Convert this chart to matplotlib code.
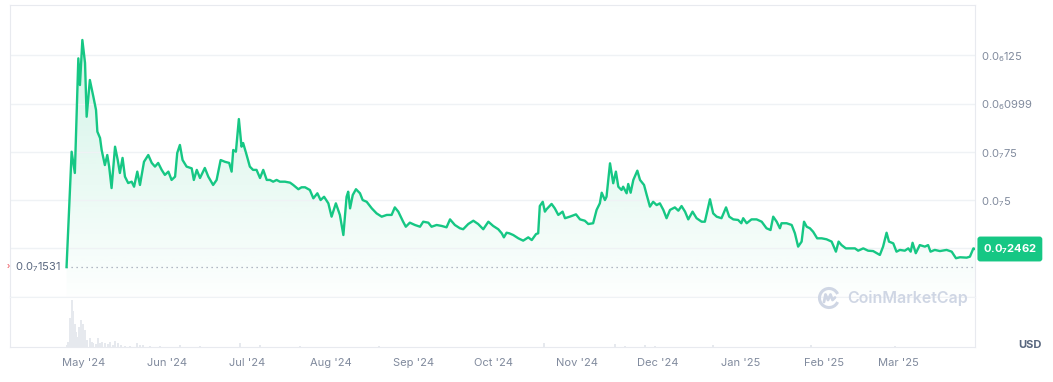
import matplotlib.pyplot as plt
import matplotlib.dates as mdates
import matplotlib.colors as mcolors
from matplotlib.patches import Arc
from matplotlib.lines import Line2D
import numpy as np
import pandas as pd

plt.rcParams['font.family'] = ['Inter', 'DejaVu Sans']

# price in units of 1e-8 USD, x = days after 2024-05-01
start = pd.Timestamp('2024-05-01')
price_days = [
    -6.5, -4.6, -3.4, -2.1, -1.5, -0.6, 0.4, 1.0, 2.2, 3.5,
    4.5, 5.0, 6.0, 6.6, 7.8, 8.7, 9.4, 10.3, 11.6, 12.6,
    13.4, 14.4, 15.3, 16.5, 17.8, 18.7, 19.9, 20.9, 22.4, 24.0,
    25.3, 26.5, 27.7, 29.0, 30.2, 31.5, 32.7, 34.0, 34.8, 35.8,
    36.8, 38.3, 40.2, 41.0, 42.1, 43.3, 45.1, 46.4, 48.2, 49.5,
    51.0, 52.6, 54.2, 55.1, 55.7, 56.7, 57.8, 58.8, 59.4, 60.7,
    61.9, 63.1, 64.4, 65.7, 66.9, 68.2, 69.4, 70.6, 71.9, 73.1,
    75.0, 76.9, 78.1, 80.0, 81.2, 82.5, 84.3, 85.6, 87.1, 88.3,
    89.6, 91.2, 92.4, 94.0, 95.5, 96.8, 98.0, 98.6, 99.3, 100.3,
    101.5, 103.0, 104.0, 105.5, 107.4, 109.2, 111.1, 113.0, 114.8, 116.0,
    117.3, 119.1, 120.1, 121.6, 123.5, 125.4, 126.6, 128.5, 129.7, 131.6,
    133.5, 135.3, 136.6, 138.4, 140.3, 141.5, 143.4, 145.3, 147.1, 149.0,
    150.9, 152.7, 154.6, 155.9, 156.7, 157.7, 158.7, 160.2, 162.1, 163.9,
    165.8, 167.1, 168.7, 169.5, 170.1, 171.2, 172.0, 172.6, 174.5, 175.7,
    177.0, 178.6, 179.5, 181.3, 183.6, 185.1, 186.9, 188.2, 190.0, 191.3,
    192.5, 193.2, 194.4, 195.0, 196.3, 197.5, 198.5, 199.4, 200.6, 201.2,
    202.5, 203.1, 204.0, 205.0, 206.5, 207.5, 209.0, 210.0, 211.2, 212.4,
    213.7, 214.9, 216.2, 217.4, 218.7, 220.5, 221.8, 223.0, 224.3, 225.5,
    227.1, 228.6, 230.5, 231.7, 233.6, 234.8, 236.1, 237.9, 239.6, 240.8,
    242.3, 244.1, 245.3, 246.0, 247.3, 249.1, 251.0, 252.9, 254.7, 256.2,
    257.2, 258.5, 259.7, 260.3, 262.2, 264.1, 265.3, 266.5, 267.8, 268.7,
    269.7, 270.9, 272.1, 273.6, 275.3, 277.1, 279.0, 280.6, 281.6, 282.7,
    284.3, 285.8, 287.7, 288.9, 290.8, 292.6, 294.5, 297.0, 298.2, 299.5,
    300.4, 302.0, 303.2, 304.5, 306.3, 307.6, 308.5, 309.2, 310.4, 311.9,
    313.8, 315.0, 315.9, 317.5, 319.4, 321.9, 323.8, 325.4, 326.9, 329.4,
    330.6, 331.9, 332.5,
]
price_vals = [
    1.531, 7.50, 6.40, 12.33, 10.95, 13.28, 12.09, 9.31, 11.21, 10.35,
    9.66, 8.54, 8.21, 7.59, 6.81, 7.33, 6.73, 5.62, 7.76, 7.07,
    6.40, 7.18, 6.21, 5.88, 5.95, 5.69, 6.47, 5.78, 6.98, 7.33,
    6.92, 6.73, 6.92, 6.56, 6.30, 6.47, 6.04, 6.21, 7.43, 7.85,
    7.07, 6.73, 6.64, 6.04, 6.56, 6.14, 6.66, 6.21, 5.78, 6.04,
    7.07, 6.98, 6.92, 6.47, 7.59, 7.50, 9.19, 7.76, 7.95, 7.33,
    6.73, 6.56, 6.56, 6.14, 6.56, 6.04, 6.04, 5.95, 6.04, 5.95,
    5.95, 5.90, 5.78, 5.56, 5.66, 5.66, 5.52, 5.09, 5.35, 5.00,
    5.17, 4.83, 4.14, 4.83, 4.23, 3.19, 5.17, 5.43, 4.57, 5.26,
    5.56, 5.35, 5.00, 4.91, 4.57, 4.31, 4.14, 4.23, 4.23, 4.62,
    4.40, 3.88, 3.62, 3.83, 3.71, 3.62, 3.88, 3.83, 3.62, 3.71,
    3.66, 3.59, 4.00, 3.71, 3.54, 3.49, 3.76, 3.93, 3.76, 3.49,
    3.88, 3.66, 3.49, 3.28, 3.07, 3.31, 3.28, 3.19, 3.02, 2.90,
    3.07, 2.93, 3.24, 3.28, 4.69, 4.91, 4.40, 4.52, 4.80, 4.57,
    4.23, 4.40, 4.06, 4.14, 4.26, 4.00, 3.93, 3.76, 3.80, 4.49,
    4.83, 5.38, 5.00, 5.17, 6.90, 5.87, 6.47, 5.69, 5.52, 5.69,
    5.35, 5.83, 5.38, 6.04, 6.52, 6.04, 5.78, 5.26, 4.66, 4.91,
    4.74, 4.83, 4.49, 4.06, 4.49, 4.62, 4.45, 4.69, 4.40, 4.00,
    4.40, 4.06, 3.88, 3.88, 5.04, 4.31, 4.14, 4.06, 4.62, 4.14,
    4.00, 3.97, 3.80, 4.06, 3.80, 4.00, 4.00, 3.88, 3.54, 3.45,
    4.14, 3.88, 3.54, 3.80, 3.80, 3.71, 3.28, 2.59, 2.85, 3.88,
    3.62, 3.54, 3.36, 3.02, 3.02, 2.97, 2.85, 2.33, 2.85, 2.67,
    2.50, 2.50, 2.50, 2.38, 2.50, 2.38, 2.36, 2.16, 2.59, 3.31,
    2.85, 2.76, 2.33, 2.42, 2.38, 2.50, 2.33, 2.79, 2.25, 2.67,
    2.59, 2.67, 2.33, 2.42, 2.36, 2.42, 2.33, 1.99, 2.04, 2.02,
    2.07, 2.50, 2.462,
]

# volume (relative)
vol_days = [-6.5, -5.9, -5.2, -4.6, -4.0, -3.4, -2.8, -2.5, -1.9, -1.2,
            -0.5, 0.4, 1.2, 2.2, 3.0, 3.5, 4.5, 5.3, 6.0, 6.6,
            7.8, 9.0, 9.7, 10.8, 11.6, 12.7, 13.8, 15.3, 17.2, 19.7,
            20.9, 22.0, 24.6, 28.4, 35.8, 43.3, 58.2, 65.7, 80.6, 110.0,
            171.6, 198.0, 202.0, 209.3, 213.0, 234.7, 271.3, 302.6]
vol_vals = [2, 5, 30, 48, 37, 24, 15, 10, 20, 28,
            24, 17, 7, 9, 5, 4, 3, 9, 4, 5,
            4, 3, 5, 2, 6, 4, 2, 1.5, 1, 4,
            2, 2, 1, 1, 2, 1, 4, 2, 1, 1,
            4, 3, 1.5, 2.5, 1.5, 2, 2, 1]

month_ticks = ['2024-05-01', '2024-06-01', '2024-07-01', '2024-08-01', '2024-09-01',
               '2024-10-01', '2024-11-01', '2024-12-01', '2025-01-01', '2025-02-01',
               '2025-03-01']
month_labels = ["May '24", "Jun '24", "Jul '24", "Aug '24", "Sep '24", "Oct '24",
                "Nov '24", "Dec '24", "Jan '25", "Feb '25", "Mar '25"]
grid_vals = [0, 2.5, 5, 7.5, 9.99, 12.5]
grid_labels = ['', '', r'$\mathregular{0.0_{7}5}$', r'$\mathregular{0.0_{7}75}$',
               r'$\mathregular{0.0_{6}0999}$', r'$\mathregular{0.0_{6}125}$']
low_val = 1.531
last_val = 2.462

green = '#16c784'
border = '#e8eaef'
W, H = 1053, 382

x = mdates.date2num(start + pd.to_timedelta(price_days, unit='D'))
xv = mdates.date2num(start + pd.to_timedelta(vol_days, unit='D'))
x0 = mdates.date2num(start + pd.Timedelta(days=-27.6))
x1 = mdates.date2num(start + pd.Timedelta(days=332.5))
ytop = 15.09

fig = plt.figure(figsize=(W / 100, H / 100), dpi=100)
ax = fig.add_axes([10 / W, (H - 296.7) / H, 965 / W, 291.7 / H])
axv = fig.add_axes([10 / W, (H - 347) / H, 965 / W, 50.3 / H])

# gradient fill under the line
poly = ax.fill_between(x, price_vals, 0, facecolor='none', edgecolor='none')
rgba = np.zeros((256, 1, 4))
rgba[..., :3] = mcolors.to_rgb(green)
rgba[:, 0, 3] = np.linspace(0.22, 0.01, 256)
im = ax.imshow(rgba, aspect='auto', extent=[x0, x1, 0, ytop], origin='upper', zorder=1)
im.set_clip_path(poly.get_paths()[0], transform=ax.transData)

ax.plot(x, price_vals, color=green, lw=1.7, zorder=3, solid_joinstyle='round')
ax.axhline(low_val, xmin=(66 - 10) / 965, xmax=1, color='#9aa3b2', lw=0.9,
           ls=(0, (1, 3)), zorder=2)

ax.set_xlim(x0, x1)
ax.set_ylim(0, ytop)
ax.set_yticks(grid_vals)
ax.set_yticklabels(grid_labels)
ax.yaxis.tick_right()
ax.tick_params(axis='y', length=0, pad=4, labelsize=8, labelcolor='#808a9d')
ax.set_xticks([])
ax.grid(axis='y', color='#eff2f5', lw=1)
for s in ax.spines.values():
    s.set_color(border)
ax.spines['bottom'].set_visible(False)

axv.bar(xv, vol_vals, width=0.7, color='#e6e9ee', zorder=2)
axv.set_xlim(x0, x1)
axv.set_ylim(0, 48 * 50.3 / 47)
axv.set_yticks([])
axv.set_xticks(mdates.date2num(pd.to_datetime(month_ticks)))
axv.set_xticklabels(month_labels)
axv.tick_params(axis='x', length=0, pad=8, labelsize=8, labelcolor='#808a9d')
for s in axv.spines.values():
    s.set_color(border)
axv.spines['top'].set_color('#eff2f5')

# low label on the left
fig.text(15 / W, 1 - 267 / H, r'$\mathregular{0.0_{7}1531}$', fontsize=8,
         color='#58667e', va='center', ha='left')
fig.text(8 / W, 1 - 266 / H, '›', fontsize=6, color='#ea3943', va='center', ha='center')

# current price tag
fig.text(983 / W, 1 - 249 / H, r'$\mathregular{0.0_{7}2462}$', fontsize=8,
         color='white', fontweight='bold', va='center', ha='left',
         bbox=dict(boxstyle='round,pad=0.5,rounding_size=0.25', fc=green, ec='none'))

fig.text(1030 / W, 1 - 345 / H, 'USD', fontsize=8, fontweight='bold',
         color='#58667e', va='center', ha='center')

# watermark
wm = '#cfd6e4'
cx, cy = 8.29, (H - 298) / 100
fig.add_artist(Arc((cx, cy), 0.19, 0.19, theta1=25, theta2=335, lw=2.2, color=wm,
                   transform=fig.dpi_scale_trans))
fig.add_artist(Line2D([cx - 0.05, cx - 0.035, cx - 0.01, cx + 0.015, cx + 0.035, cx + 0.06],
                      [cy - 0.04, cy + 0.035, cy - 0.02, cy + 0.035, cy - 0.02, cy + 0.005],
                      lw=2, color=wm, transform=fig.dpi_scale_trans,
                      solid_joinstyle='round', solid_capstyle='round'))
fig.text(847 / W, 1 - 298 / H, 'CoinMarketCap', fontsize=11.5, fontweight='semibold',
         color=wm, va='center', ha='left')

fig.savefig('out.png', dpi=100)
